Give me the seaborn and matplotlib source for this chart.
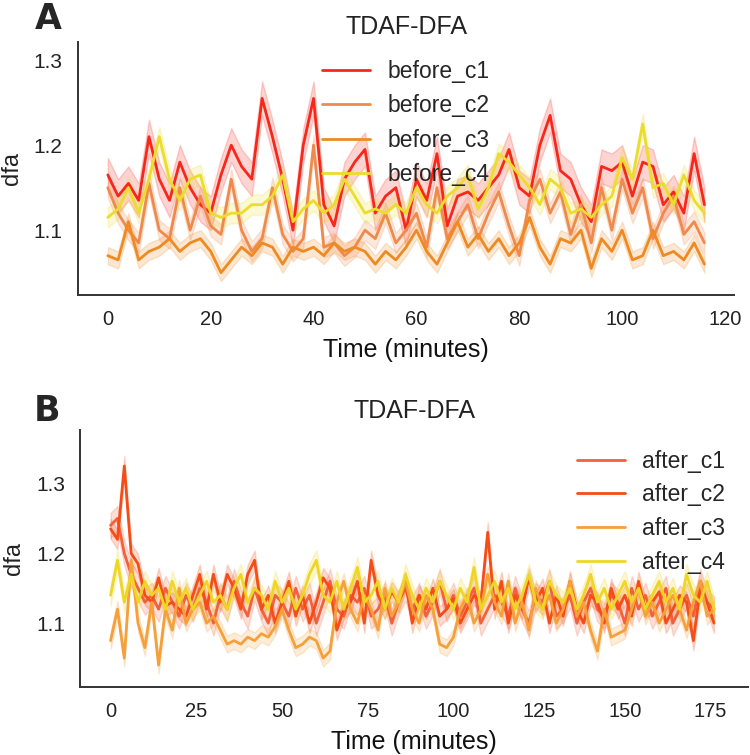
import numpy as np
import pandas as pd
import matplotlib
matplotlib.use("Agg")
import matplotlib.pyplot as plt
import seaborn as sns

# ---- panel A : before, minutes 0..116 (every 2 min) ----
time_a = np.arange(0, 117, 2)
before_c1 = [1.165, 1.14, 1.155, 1.135, 1.21, 1.16, 1.135, 1.18, 1.15, 1.13,
             1.12, 1.165, 1.20, 1.175, 1.16, 1.255, 1.21, 1.16, 1.10, 1.20,
             1.255, 1.13, 1.105, 1.16, 1.18, 1.195, 1.12, 1.14, 1.15, 1.10,
             1.16, 1.135, 1.19, 1.105, 1.14, 1.145, 1.135, 1.15, 1.165, 1.195,
             1.15, 1.14, 1.20, 1.235, 1.17, 1.16, 1.13, 1.11, 1.175, 1.17,
             1.18, 1.14, 1.18, 1.175, 1.13, 1.145, 1.12, 1.19, 1.13]
before_c2 = [1.15, 1.12, 1.10, 1.085, 1.155, 1.10, 1.09, 1.15, 1.10, 1.14,
             1.105, 1.095, 1.16, 1.10, 1.075, 1.09, 1.15, 1.095, 1.075, 1.09,
             1.20, 1.08, 1.085, 1.07, 1.08, 1.10, 1.09, 1.12, 1.085, 1.10,
             1.12, 1.08, 1.15, 1.09, 1.11, 1.13, 1.09, 1.12, 1.145, 1.105,
             1.07, 1.135, 1.16, 1.12, 1.145, 1.095, 1.13, 1.085, 1.15, 1.10,
             1.16, 1.12, 1.15, 1.09, 1.12, 1.14, 1.095, 1.11, 1.085]
before_c3 = [1.07, 1.065, 1.11, 1.065, 1.075, 1.08, 1.09, 1.075, 1.085, 1.09,
             1.075, 1.05, 1.065, 1.08, 1.07, 1.085, 1.08, 1.06, 1.08, 1.075,
             1.08, 1.07, 1.085, 1.075, 1.08, 1.075, 1.06, 1.075, 1.065, 1.08,
             1.10, 1.075, 1.06, 1.085, 1.11, 1.08, 1.095, 1.075, 1.09, 1.07,
             1.085, 1.115, 1.08, 1.06, 1.09, 1.085, 1.10, 1.055, 1.09, 1.075,
             1.10, 1.065, 1.07, 1.10, 1.07, 1.075, 1.065, 1.085, 1.06]
before_c4 = [1.115, 1.125, 1.15, 1.12, 1.16, 1.21, 1.16, 1.135, 1.16, 1.165,
             1.12, 1.115, 1.12, 1.12, 1.13, 1.13, 1.14, 1.165, 1.11, 1.125,
             1.135, 1.12, 1.13, 1.16, 1.14, 1.12, 1.125, 1.12, 1.13, 1.12,
             1.15, 1.13, 1.12, 1.14, 1.15, 1.165, 1.125, 1.15, 1.19, 1.18,
             1.165, 1.15, 1.13, 1.16, 1.15, 1.12, 1.125, 1.115, 1.13, 1.14,
             1.185, 1.16, 1.225, 1.15, 1.155, 1.13, 1.165, 1.135, 1.12]

# ---- panel B : after, minutes 0..176 (every 2 min) ----
time_b = np.arange(0, 177, 2)
after_c1 = [1.24, 1.25, 1.20, 1.17, 1.15, 1.13, 1.14, 1.12, 1.15, 1.13,
            1.11, 1.14, 1.12, 1.15, 1.13, 1.10, 1.14, 1.12, 1.16, 1.13,
            1.11, 1.15, 1.12, 1.10, 1.14, 1.13, 1.11, 1.15, 1.12, 1.14,
            1.10, 1.13, 1.16, 1.12, 1.11, 1.14, 1.13, 1.15, 1.11, 1.12,
            1.14, 1.10, 1.13, 1.15, 1.12, 1.14, 1.11, 1.13, 1.16, 1.12,
            1.14, 1.11, 1.13, 1.15, 1.10, 1.12, 1.14, 1.13, 1.11, 1.15,
            1.12, 1.10, 1.14, 1.13, 1.16, 1.11, 1.12, 1.14, 1.10, 1.13,
            1.15, 1.12, 1.11, 1.14, 1.13, 1.10, 1.15, 1.12, 1.14, 1.11,
            1.13, 1.15, 1.10, 1.12, 1.14, 1.11, 1.16, 1.13, 1.12]
after_c2 = [1.235, 1.22, 1.325, 1.20, 1.185, 1.14, 1.13, 1.165, 1.125, 1.13,
            1.12, 1.11, 1.14, 1.17, 1.12, 1.17, 1.13, 1.17, 1.15, 1.12,
            1.17, 1.19, 1.12, 1.14, 1.10, 1.13, 1.16, 1.11, 1.14, 1.10,
            1.13, 1.165, 1.15, 1.09, 1.12, 1.13, 1.16, 1.10, 1.19, 1.14,
            1.12, 1.145, 1.13, 1.16, 1.10, 1.14, 1.12, 1.15, 1.11, 1.12,
            1.135, 1.10, 1.12, 1.14, 1.13, 1.23, 1.12, 1.16, 1.10, 1.14,
            1.12, 1.165, 1.13, 1.15, 1.10, 1.14, 1.11, 1.16, 1.12, 1.10,
            1.14, 1.13, 1.10, 1.15, 1.12, 1.14, 1.11, 1.16, 1.12, 1.13,
            1.145, 1.10, 1.12, 1.14, 1.13, 1.075, 1.15, 1.13, 1.10]
after_c3 = [1.075, 1.12, 1.05, 1.19, 1.10, 1.065, 1.13, 1.04, 1.12, 1.09,
            1.15, 1.10, 1.12, 1.13, 1.10, 1.11, 1.09, 1.07, 1.075, 1.07,
            1.08, 1.075, 1.085, 1.08, 1.095, 1.12, 1.09, 1.065, 1.07, 1.08,
            1.075, 1.05, 1.06, 1.13, 1.16, 1.12, 1.10, 1.14, 1.12, 1.09,
            1.15, 1.11, 1.13, 1.16, 1.12, 1.10, 1.14, 1.12, 1.07, 1.065,
            1.08, 1.12, 1.14, 1.10, 1.12, 1.17, 1.13, 1.11, 1.16, 1.10,
            1.13, 1.09, 1.15, 1.12, 1.14, 1.10, 1.12, 1.16, 1.11, 1.13,
            1.09, 1.06, 1.12, 1.08, 1.085, 1.09, 1.12, 1.15, 1.11, 1.13,
            1.10, 1.12, 1.14, 1.12, 1.09, 1.13, 1.16, 1.11, 1.12]
after_c4 = [1.14, 1.19, 1.13, 1.17, 1.13, 1.16, 1.14, 1.15, 1.12, 1.16,
            1.13, 1.15, 1.12, 1.14, 1.16, 1.13, 1.14, 1.12, 1.15, 1.17,
            1.13, 1.15, 1.14, 1.12, 1.16, 1.13, 1.15, 1.12, 1.14, 1.17,
            1.19, 1.14, 1.13, 1.16, 1.12, 1.15, 1.18, 1.13, 1.14, 1.16,
            1.12, 1.15, 1.13, 1.17, 1.14, 1.12, 1.15, 1.13, 1.16, 1.14,
            1.12, 1.15, 1.13, 1.18, 1.12, 1.14, 1.16, 1.13, 1.15, 1.12,
            1.14, 1.17, 1.13, 1.12, 1.16, 1.14, 1.13, 1.15, 1.12, 1.14,
            1.17, 1.13, 1.15, 1.12, 1.14, 1.16, 1.13, 1.15, 1.12, 1.14,
            1.16, 1.13, 1.15, 1.12, 1.17, 1.14, 1.13, 1.16, 1.12]

# half width of the shaded band for each series
spread_a = [0.02, 0.012, 0.01, 0.012]
spread_b = [0.018, 0.014, 0.012, 0.015]

names_a = ["before_c1", "before_c2", "before_c3", "before_c4"]
names_b = ["after_c1", "after_c2", "after_c3", "after_c4"]
colors_a = ["#f7281a", "#f08a4c", "#ef8a22", "#ecdc2c"]
colors_b = ["#f2603e", "#f64c16", "#f5a03a", "#f0d624"]


def long_form(times, series, names, spreads):
    rows = []
    for vals, name, w in zip(series, names, spreads):
        assert len(vals) == len(times), name
        for t, v in zip(times, vals):
            for d in (-w, 0.0, w):
                rows.append((t, v + d, name))
    return pd.DataFrame(rows, columns=["time", "dfa", "cond"])


df_a = long_form(time_a, [before_c1, before_c2, before_c3, before_c4], names_a, spread_a)
df_b = long_form(time_b, [after_c1, after_c2, after_c3, after_c4], names_b, spread_b)

sns.set_theme(style="white")
plt.rcParams["font.family"] = ["Liberation Sans", "DejaVu Sans"]
narrow = ["Liberation Sans Narrow", "Liberation Sans", "DejaVu Sans"]

fig = plt.figure(figsize=(7.5, 7.55), dpi=100)
ax_a = fig.add_axes([0.104, 0.609, 0.875, 0.335])
ax_b = fig.add_axes([0.107, 0.090, 0.890, 0.340])


def draw(ax, df, names, colors, xlim, ylim, xticks, yticks, leg_anchor, title_pad, lspace):
    sns.lineplot(data=df, x="time", y="dfa", hue="cond", hue_order=names,
                 palette=dict(zip(names, colors)), estimator="mean",
                 errorbar=("pi", 100), linewidth=2.0, ax=ax)
    ax.set_xlim(*xlim)
    ax.set_ylim(*ylim)
    ax.set_xticks(xticks)
    ax.set_yticks(yticks)
    ax.set_yticklabels([f"{y:.1f}" for y in yticks], fontsize=15, color="#222222")
    ax.set_xticklabels([str(x) for x in xticks], fontsize=14.5, family=narrow, color="#222222")
    ax.tick_params(axis="both", length=0, pad=11)
    ax.set_xlabel("Time (minutes)", fontsize=18, family=narrow, labelpad=6, color="#111111")
    ax.set_ylabel("dfa", fontsize=17, labelpad=8, color="#222222")
    ax.set_title("TDAF-DFA", fontsize=18, pad=title_pad, color="#222222")
    sns.despine(ax=ax)
    for s in ("left", "bottom"):
        ax.spines[s].set_color("#333333")
        ax.spines[s].set_linewidth(1.4)
    handles, labels = ax.get_legend_handles_labels()
    ax.legend(handles, labels, loc="upper left", bbox_to_anchor=leg_anchor,
              frameon=False, fontsize=16.5, handlelength=2.1, handletextpad=0.75,
              labelspacing=lspace, borderpad=0, borderaxespad=0)


draw(ax_a, df_a, names_a, colors_a, (-5.8, 121.8), (1.0235, 1.321),
     [0, 20, 40, 60, 80, 100, 120], [1.1, 1.2, 1.3], (0.372, 0.93), 6, 0.5)
draw(ax_b, df_b, names_b, colors_b, (-8.85, 185.85), (1.0086, 1.376),
     [0, 25, 50, 75, 100, 125, 150, 175], [1.1, 1.2, 1.3], (0.744, 0.925), 9, 0.47)

fig.text(48 / 750, 1 - 19 / 755, "A", fontsize=25, fontweight="heavy",
         family="DejaVu Sans", ha="center", va="center")
fig.text(47 / 750, 1 - 411 / 755, "B", fontsize=25, fontweight="heavy",
         family="DejaVu Sans", ha="center", va="center")

fig.savefig("out.png", dpi=100)
